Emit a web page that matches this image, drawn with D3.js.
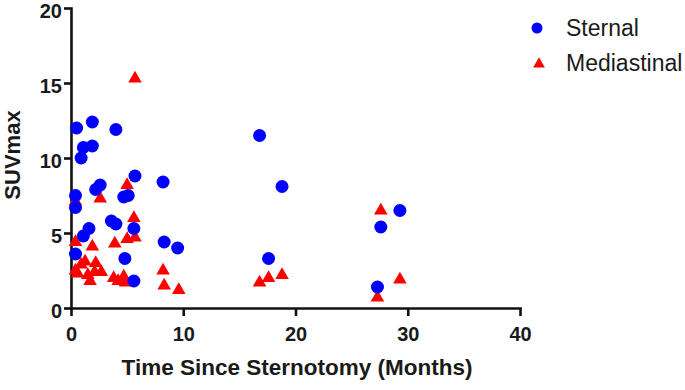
<!DOCTYPE html>
<html>
<head>
<meta charset="utf-8">
<script src="https://cdn.jsdelivr.net/npm/d3@7"></script>
<style>
  body { margin: 0; background: #fff; }
  svg text { font-family: "Liberation Sans", Arial, sans-serif; fill: #1a1a1a; }
  .axis path, .axis line { stroke: #111; stroke-width: 2.6px; }
  .axis text { font-size: 20px; font-weight: bold; }
</style>
</head>
<body>
<svg id="chart"></svg>
<script>
// series: [months, SUVmax]
const sternal = [
    [0.5, 12.0], [1.9, 12.4], [4.0, 11.9], [1.1, 10.7], [1.9, 10.8], [0.9, 10.0],
    [5.7, 8.8], [8.2, 8.4], [0.4, 7.5], [2.2, 7.9], [2.6, 8.2], [4.7, 7.4],
    [5.1, 7.5], [0.4, 6.7], [3.6, 5.8], [4.0, 5.6], [5.6, 5.3], [1.6, 5.3],
    [1.1, 4.8], [0.4, 3.6], [4.8, 3.3], [5.6, 1.8], [8.3, 4.4], [9.5, 4.0],
    [16.8, 11.5], [18.8, 8.1], [17.6, 3.3], [27.6, 5.4], [29.3, 6.5], [27.3, 1.4]
];
const mediastinal = [
    [5.7, 15.3], [5.0, 8.2], [2.6, 7.3], [0.4, 7.1], [5.6, 6.0],
    [5.0, 4.6], [5.7, 4.7], [3.9, 4.3], [1.9, 4.1], [0.4, 4.4],
    [0.9, 2.9], [1.25, 3.1], [2.2, 3.0], [2.7, 2.4], [0.6, 2.3], [1.5, 2.2],
    [1.7, 1.8], [2.1, 2.4], [0.4, 2.5],
    [3.8, 2.0], [4.2, 1.8], [4.7, 2.1], [4.85, 1.7],
    [8.2, 2.5], [8.3, 1.5], [9.6, 1.2],
    [16.8, 1.7], [17.6, 2.0], [18.8, 2.2],
    [27.6, 6.5], [29.3, 1.9], [27.3, 0.7]
];
const xTicks = [0, 10, 20, 30, 40];
const yTicks = [0, 5, 10, 15, 20];
const seriesNames = ["Sternal", "Mediastinal"];
const seriesColors = ["#0000ff", "#ff0000"];

const width = 685, height = 390;
const margin = {top: 8, right: 165, bottom: 82, left: 71};

const svg = d3.select("#chart")
    .attr("width", width)
    .attr("height", height);

const x = d3.scaleLinear().domain([0, 40]).range([margin.left, width - margin.right]);
const y = d3.scaleLinear().domain([0, 20]).range([height - margin.bottom, margin.top]);

svg.append("g")
    .attr("class", "axis")
    .attr("transform", "translate(0," + (height - margin.bottom) + ")")
    .call(d3.axisBottom(x).tickValues(xTicks).tickSize(8).tickSizeOuter(0).tickPadding(11));

svg.append("g")
    .attr("class", "axis y-axis")
    .attr("transform", "translate(" + margin.left + ",0)")
    .call(d3.axisLeft(y).tickValues(yTicks).tickSize(7).tickSizeOuter(0).tickPadding(2));

// labels sit a touch below their ticks, like the original
svg.selectAll(".y-axis text").attr("dy", "0.45em");
svg.selectAll(".axis path").attr("stroke-linecap", "square");

const tri = d3.symbol().type(d3.symbolTriangle).size(80);

svg.append("g").selectAll("path")
    .data(mediastinal)
    .enter().append("path")
    .attr("d", tri)
    .attr("transform", function (d) { return "translate(" + x(d[0]) + "," + y(d[1]) + ")"; })
    .attr("fill", seriesColors[1]);

svg.append("g").selectAll("circle")
    .data(sternal)
    .enter().append("circle")
    .attr("cx", function (d) { return x(d[0]); })
    .attr("cy", function (d) { return y(d[1]); })
    .attr("r", 6.5)
    .attr("fill", seriesColors[0]);

// axis titles
svg.append("text")
    .attr("x", 297)
    .attr("y", 375)
    .attr("text-anchor", "middle")
    .style("font-size", "22.5px")
    .style("font-weight", "bold")
    .text("Time Since Sternotomy (Months)");

svg.append("text")
    .attr("transform", "translate(20,155) rotate(-90)")
    .attr("text-anchor", "middle")
    .style("font-size", "22px")
    .style("font-weight", "bold")
    .text("SUVmax");

// legend
const legend = svg.append("g");
legend.append("circle")
    .attr("cx", 537).attr("cy", 28).attr("r", 5.5)
    .attr("fill", seriesColors[0]);
legend.append("path")
    .attr("d", d3.symbol().type(d3.symbolTriangle).size(60))
    .attr("transform", "translate(539,64)")
    .attr("fill", seriesColors[1]);
legend.selectAll("text")
    .data(seriesNames)
    .enter().append("text")
    .attr("x", 566)
    .attr("y", function (d, i) { return 28 + i * 35; })
    .attr("dy", "0.35em")
    .style("font-size", "23px")
    .text(function (d) { return d; });
</script>
</body>
</html>
